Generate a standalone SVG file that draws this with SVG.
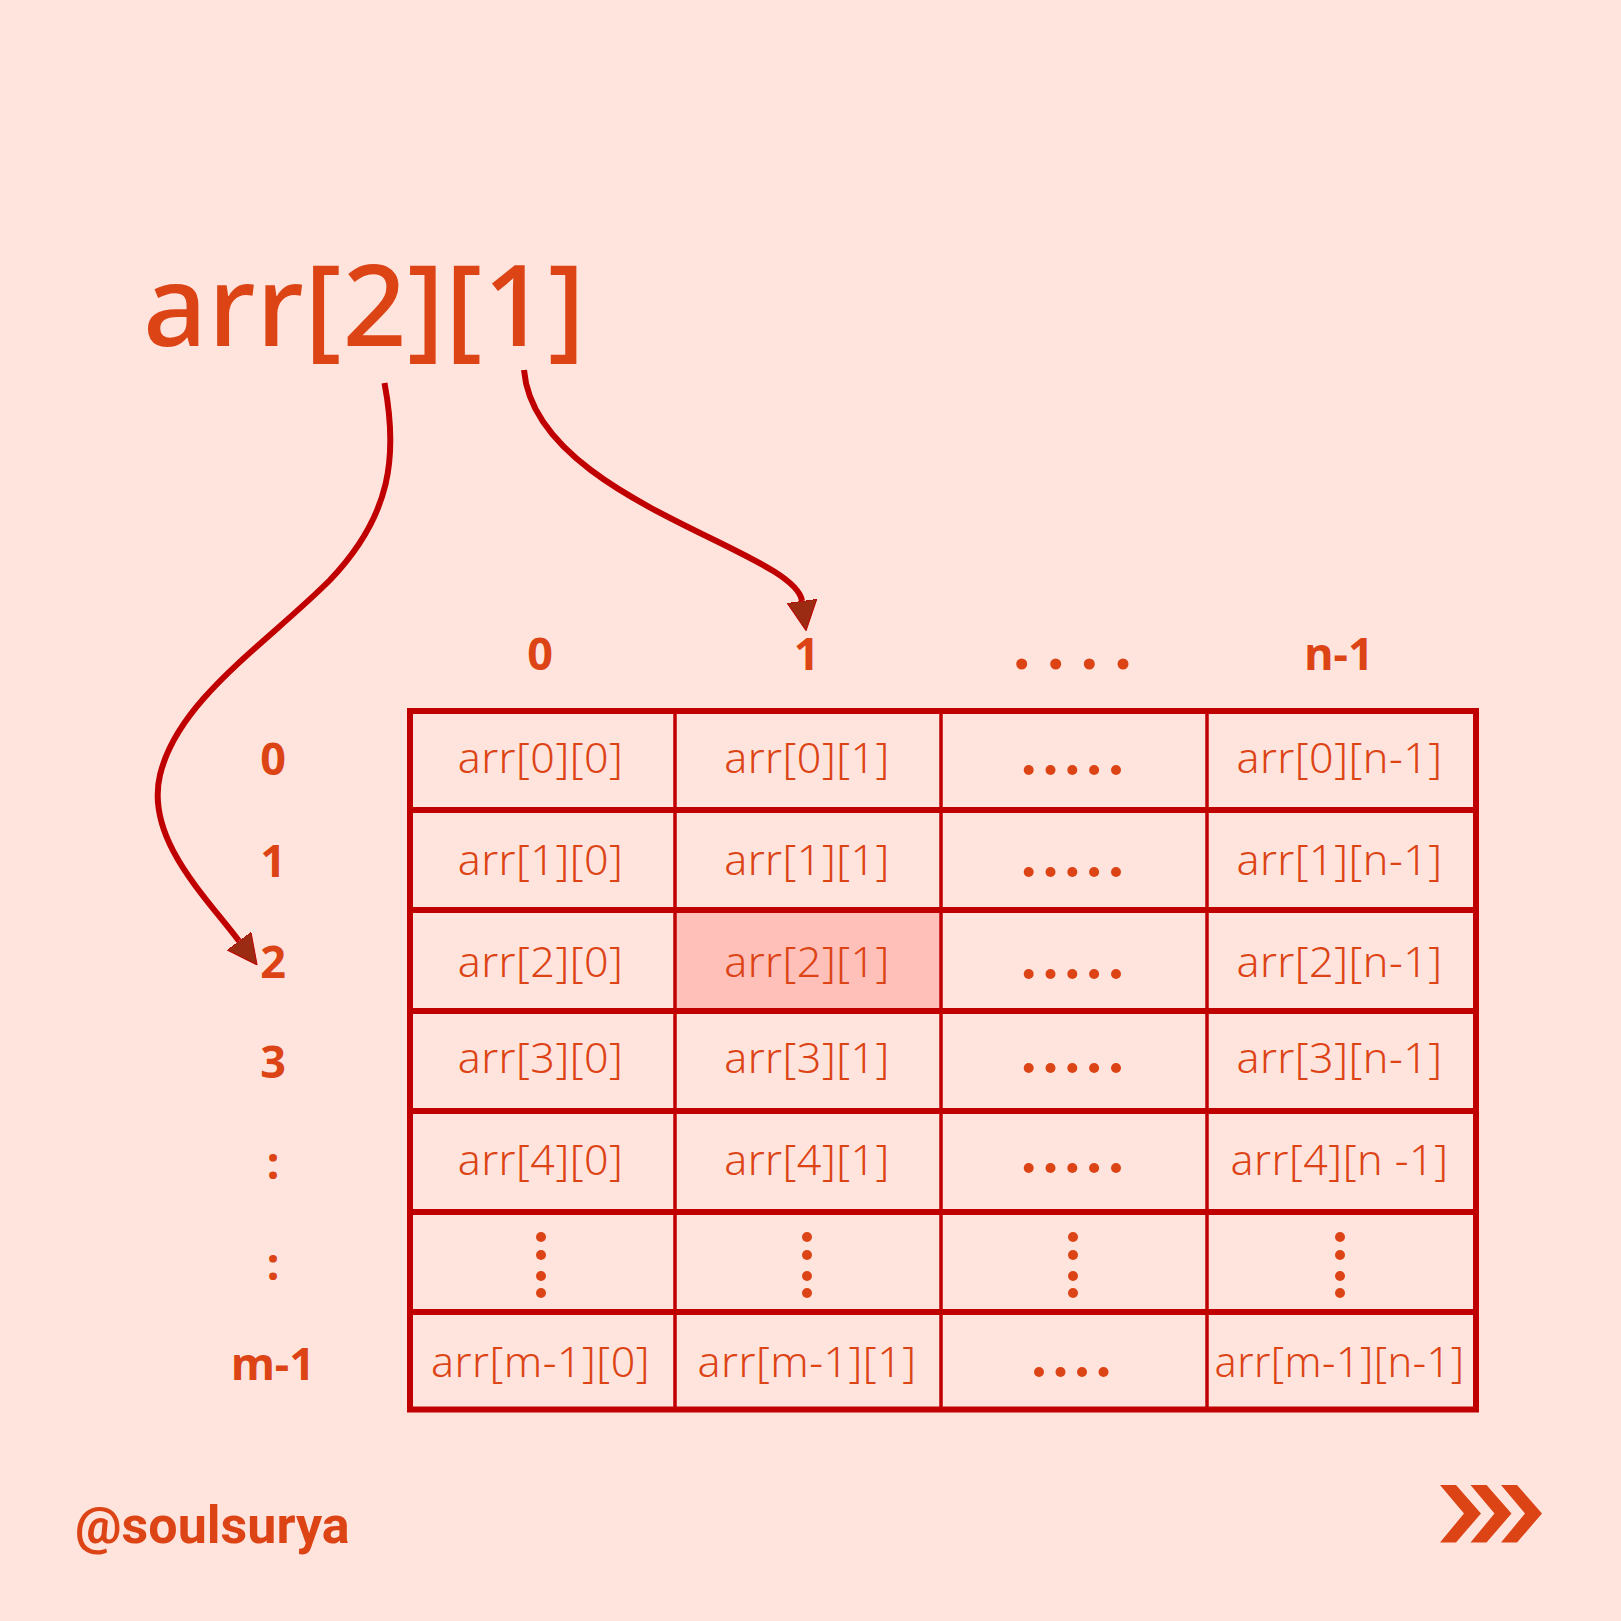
<svg xmlns="http://www.w3.org/2000/svg" width="1621" height="1621" viewBox="0 0 1621 1621">
<defs>
<style>
.bg{fill:#FFE4DE}
.title{font-family:"Noto Sans","Liberation Sans",sans-serif;font-weight:500;font-size:112px;fill:#DC4416}
.lbl{font-family:"Noto Sans","Liberation Sans",sans-serif;font-weight:700;font-size:45px;fill:#DC4416;text-anchor:middle}
.cell{font-family:"Noto Sans","Liberation Sans",sans-serif;font-weight:300;font-size:43px;fill:#DC4416;text-anchor:middle;letter-spacing:0.5px}
.dot{fill:#DC4416}
.grid{fill:none;stroke:#C00000;stroke-width:6}
.vline{stroke:#C00000;stroke-width:3.5}
.hline{stroke:#C00000;stroke-width:6}
.conn{fill:none;stroke:#C00000;stroke-width:6;marker-end:url(#ah)}
.sig{font-family:Roboto,"Liberation Sans",sans-serif;font-weight:700;font-size:52px;fill:#DC4416}
</style>
<marker id="ah" viewBox="0 0 30 30" refX="0" refY="15" markerWidth="30" markerHeight="30" orient="auto" markerUnits="userSpaceOnUse">
<path d="M0,0 L30,15 L0,30 z" fill="#9B2B12" stroke="#C00000" stroke-width="1"/>
</marker>
</defs>
<rect class="bg" x="0" y="0" width="1621" height="1621"/>

<g id="title"><text class="title" x="143" y="346" textLength="442" lengthAdjust="spacing">arr[2][1]</text></g>

<g id="col-headers">
<text class="lbl" x="540" y="669.5">0</text>
<text class="lbl" x="806.5" y="669.5">1</text>
<circle class="dot" cx="1021.7" cy="664" r="5.5"/><circle class="dot" cx="1055.7" cy="664" r="5.5"/><circle class="dot" cx="1089.3" cy="664" r="5.5"/><circle class="dot" cx="1123" cy="664" r="5.5"/>
<text class="lbl" x="1339" y="669.5">n-1</text>
</g>

<g id="row-headers">
<text class="lbl" x="273" y="775">0</text>
<text class="lbl" x="273" y="877">1</text>
<text class="lbl" x="273" y="978">2</text>
<text class="lbl" x="273" y="1078">3</text>
<text class="lbl" x="273" y="1179">:</text>
<text class="lbl" x="273" y="1279.5">:</text>
<text class="lbl" x="273" y="1380">m-1</text>
</g>

<g id="table">
<rect id="highlight" x="676" y="912" width="264" height="97" fill="#FFC0BA"/>
<g id="row0">
<text class="cell" x="540.5" y="773">arr[0][0]</text>
<text class="cell" x="807" y="773">arr[0][1]</text>
<g><circle class="dot" cx="1028.7" cy="770" r="5"/><circle class="dot" cx="1050.5" cy="770" r="5"/><circle class="dot" cx="1072.3" cy="770" r="5"/><circle class="dot" cx="1094.1" cy="770" r="5"/><circle class="dot" cx="1116" cy="770" r="5"/></g>
<text class="cell" x="1339.5" y="773">arr[0][n-1]</text>
</g>
<g id="row1">
<text class="cell" x="540.5" y="875">arr[1][0]</text>
<text class="cell" x="807" y="875">arr[1][1]</text>
<g><circle class="dot" cx="1028.7" cy="872" r="5"/><circle class="dot" cx="1050.5" cy="872" r="5"/><circle class="dot" cx="1072.3" cy="872" r="5"/><circle class="dot" cx="1094.1" cy="872" r="5"/><circle class="dot" cx="1116" cy="872" r="5"/></g>
<text class="cell" x="1339.5" y="875">arr[1][n-1]</text>
</g>
<g id="row2">
<text class="cell" x="540.5" y="977">arr[2][0]</text>
<text class="cell" x="807" y="977">arr[2][1]</text>
<g><circle class="dot" cx="1028.7" cy="974" r="5"/><circle class="dot" cx="1050.5" cy="974" r="5"/><circle class="dot" cx="1072.3" cy="974" r="5"/><circle class="dot" cx="1094.1" cy="974" r="5"/><circle class="dot" cx="1116" cy="974" r="5"/></g>
<text class="cell" x="1339.5" y="977">arr[2][n-1]</text>
</g>
<g id="row3">
<text class="cell" x="540.5" y="1073">arr[3][0]</text>
<text class="cell" x="807" y="1073">arr[3][1]</text>
<g><circle class="dot" cx="1028.7" cy="1068" r="5"/><circle class="dot" cx="1050.5" cy="1068" r="5"/><circle class="dot" cx="1072.3" cy="1068" r="5"/><circle class="dot" cx="1094.1" cy="1068" r="5"/><circle class="dot" cx="1116" cy="1068" r="5"/></g>
<text class="cell" x="1339.5" y="1073">arr[3][n-1]</text>
</g>
<g id="row4">
<text class="cell" x="540.5" y="1175">arr[4][0]</text>
<text class="cell" x="807" y="1175">arr[4][1]</text>
<g><circle class="dot" cx="1028.7" cy="1168" r="5"/><circle class="dot" cx="1050.5" cy="1168" r="5"/><circle class="dot" cx="1072.3" cy="1168" r="5"/><circle class="dot" cx="1094.1" cy="1168" r="5"/><circle class="dot" cx="1116" cy="1168" r="5"/></g>
<text class="cell" x="1339.5" y="1175">arr[4][n -1]</text>
</g>
<g id="row5">
<g><circle class="dot" cx="541" cy="1237" r="5"/><circle class="dot" cx="541" cy="1255" r="5"/><circle class="dot" cx="541" cy="1276" r="5"/><circle class="dot" cx="541" cy="1293" r="5"/></g>
<g><circle class="dot" cx="807" cy="1237" r="5"/><circle class="dot" cx="807" cy="1255" r="5"/><circle class="dot" cx="807" cy="1276" r="5"/><circle class="dot" cx="807" cy="1293" r="5"/></g>
<g><circle class="dot" cx="1073" cy="1237" r="5"/><circle class="dot" cx="1073" cy="1255" r="5"/><circle class="dot" cx="1073" cy="1276" r="5"/><circle class="dot" cx="1073" cy="1293" r="5"/></g>
<g><circle class="dot" cx="1340" cy="1237" r="5"/><circle class="dot" cx="1340" cy="1255" r="5"/><circle class="dot" cx="1340" cy="1276" r="5"/><circle class="dot" cx="1340" cy="1293" r="5"/></g>
</g>
<g id="row6">
<text class="cell" x="540.5" y="1377">arr[m-1][0]</text>
<text class="cell" x="807" y="1377">arr[m-1][1]</text>
<g><circle class="dot" cx="1039" cy="1372" r="5"/><circle class="dot" cx="1060.5" cy="1372" r="5"/><circle class="dot" cx="1082" cy="1372" r="5"/><circle class="dot" cx="1103.5" cy="1372" r="5"/></g>
<text class="cell" x="1339.5" y="1377" textLength="250" lengthAdjust="spacingAndGlyphs">arr[m-1][n-1]</text>
</g>
<g id="grid">
<line class="vline" x1="675" y1="711" x2="675" y2="1409.5"/>
<line class="vline" x1="941" y1="711" x2="941" y2="1409.5"/>
<line class="vline" x1="1207" y1="711" x2="1207" y2="1409.5"/>
<line class="hline" x1="410" y1="810" x2="1476" y2="810"/>
<line class="hline" x1="410" y1="910" x2="1476" y2="910"/>
<line class="hline" x1="410" y1="1011" x2="1476" y2="1011"/>
<line class="hline" x1="410" y1="1111" x2="1476" y2="1111"/>
<line class="hline" x1="410" y1="1212" x2="1476" y2="1212"/>
<line class="hline" x1="410" y1="1312" x2="1476" y2="1312"/>
<rect class="grid" x="410" y="711" width="1066" height="698.5"/>
</g>
</g>

<g id="connectors">
<path class="conn" d="M 384.5 383 C 398 455, 392 515, 330 580 C 265 645, 178 700, 160 775 C 145 838, 205 896, 239 941"/>
<path class="conn" d="M 524 370 C 535 500, 795 550, 802 601"/>
</g>

<g id="footer">
<text class="sig" x="75" y="1543">@soulsurya</text>
<g fill="#DC4416">
<polygon points="1440,1485 1456,1485 1481,1513.5 1456,1542.5 1440,1542.5 1464,1513.5"/>
<polygon points="1470.5,1485 1486.5,1485 1511.5,1513.5 1486.5,1542.5 1470.5,1542.5 1494.5,1513.5"/>
<polygon points="1501,1485 1517,1485 1542,1513.5 1517,1542.5 1501,1542.5 1525,1513.5"/>
</g>
</g>
</svg>
